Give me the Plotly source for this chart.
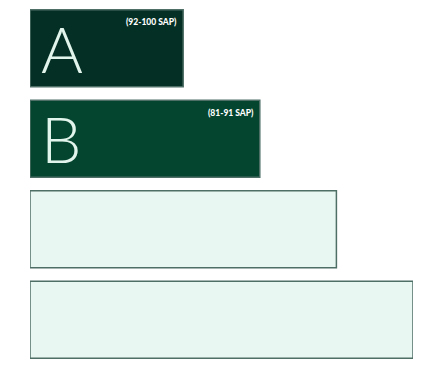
import plotly.graph_objects as go

categories = ["A", "B", "C", "D"]
values = [40, 60, 80, 100]
letters = ["A", "B", "", ""]
ranges = ["(92-100 SAP)", "(81-91 SAP)", "", ""]
fill_colors = ["#042f24", "#04452f", "#e8f7f1", "#e8f7f1"]

fig = go.Figure()
fig.add_trace(go.Bar(
    x=values, y=categories, orientation="h",
    marker=dict(color=fill_colors, line=dict(color="#4e6f66", width=1.5)),
    hoverinfo="skip",
))

annotations = []
for cat, val, letter, rng in zip(categories, values, letters, ranges):
    if letter:
        annotations.append(dict(
            x=0, y=cat, xref="x", yref="y", text=letter, showarrow=False,
            xanchor="left", yanchor="middle", xshift=9, yshift=0,
            font=dict(family="Lato", size=64, color="#e2f5ec", weight=300),
        ))
    if rng:
        annotations.append(dict(
            x=val, y=cat, xref="x", yref="y", text=rng, showarrow=False,
            xanchor="right", yanchor="middle", xshift=-4, yshift=26,
            font=dict(family="Lato", size=8.5, color="#ffffff", weight=900),
        ))

fig.update_layout(
    width=431, height=365,
    margin=dict(l=30, r=18, t=3, b=0),
    paper_bgcolor="white", plot_bgcolor="white",
    bargap=0.15, showlegend=False,
    xaxis=dict(range=[0, 100], visible=False, showgrid=False, zeroline=False),
    yaxis=dict(autorange="reversed", visible=False, showgrid=False, zeroline=False),
    annotations=annotations,
)
fig.write_html("out.html", config={"displayModeBar": False},
               post_script="document.body.style.margin='0';document.body.style.overflow='hidden';")
